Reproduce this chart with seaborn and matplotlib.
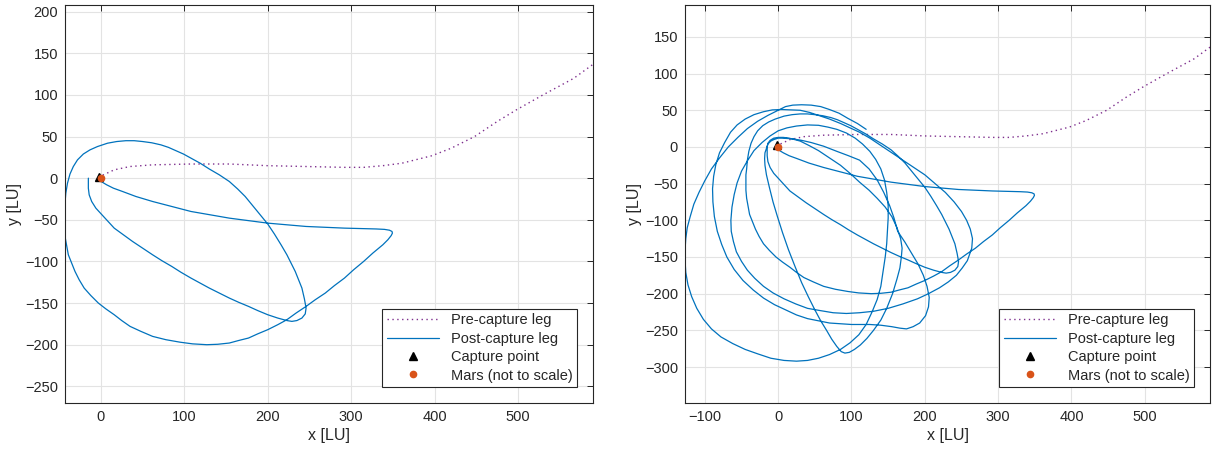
import matplotlib
matplotlib.use("Agg")
import matplotlib.pyplot as plt
import seaborn as sns
import pandas as pd

# pre-capture leg (same in both panels)
pre_x = [589, 567, 530, 498, 475, 448, 420, 397, 361, 338, 315, 292, 246, 200, 154,
         108, 62, 35, 16, 3, -2]
pre_y = [136, 120, 100, 82, 68, 50, 36, 27, 18, 15, 13, 13, 14, 15, 17,
         17, 16, 14, 10, 4, 2]

# post-capture leg, short propagation (left panel)
post_x = [-2, -1, 2, 7, 15, 26, 42, 62, 85, 108, 131, 154, 177, 200, 223, 246, 269, 292, 312,
          330, 340, 346, 349, 349.5, 348, 344, 338,
          326, 315, 303, 292, 280, 269, 257, 246, 234, 223, 212, 200, 188, 177, 165, 154, 140, 127,
          110, 95, 78, 62, 48, 35, 25, 16, 6, -3, -12, -20, -26, -31, -35, -39, -41, -43, -44, -44,
          -44, -43, -42, -40, -37, -33, -28, -21, -13, -4, 8, 19, 30, 40, 50, 61, 72, 81, 90, 99,
          108, 119, 130, 142, 154, 164, 173, 182, 191, 200, 208, 216, 223, 228, 233, 237, 241,
          244, 246, 245, 241, 235, 229, 223, 212, 200, 188, 177, 165, 154, 142, 130, 119, 108,
          96, 85, 73, 62, 50, 38, 27, 16, 5, -6, -11, -14, -15, -15, -15]
post_y = [2, -2, -5, -8, -12, -16, -22, -28, -34, -40, -44, -48, -51, -54, -56, -58, -59, -60, -60.5,
          -61, -61.5, -62.5, -64, -66, -69, -74, -80,
          -90, -100, -110, -120, -129, -138, -146, -154, -162, -170, -176, -182, -187, -192, -195, -198, -199.5, -200,
          -199, -197, -194, -190, -184, -178, -171, -164, -157, -150, -141, -132, -122, -112, -102, -92, -81, -70, -59, -48,
          -38, -30, -18, -6, 5, 14, 22, 29, 34, 38, 42, 44, 45, 45, 44, 42.5, 40, 37, 33, 29,
          24, 18, 11, 4, -4, -13, -22, -33, -44, -55, -67, -80, -92, -102, -112, -122, -132,
          -145, -156, -163, -168, -171, -172, -171, -168, -164, -159, -154, -149, -144, -138, -132, -126, -120,
          -113, -106, -99, -92, -84, -76, -68, -60, -48, -36, -28, -20, -12, -5, 0]

# later revolutions (right panel only), read as (x, y) points
rev_b = [(-14, 5), (-11, 9), (-6, 12), (0, 13), (7, 13), (15, 12), (30, 8), (42, 2), (55, -5),
         (70, -15), (85, -25), (98, -36), (111, -48), (124, -59), (135, -70), (146, -82),
         (155, -95), (162, -110), (167, -125), (169, -138), (168, -150), (166, -165), (162, -180),
         (156, -200), (148, -220), (140, -236), (130, -250), (121, -261), (112, -270), (104, -276),
         (97, -280), (91, -281), (86, -279), (80, -272), (73, -262), (66, -250), (58, -237),
         (50, -222), (41, -204), (32, -185), (23, -163), (14, -140), (6, -117), (-1, -95),
         (-7, -75), (-12, -55), (-16, -38), (-18, -25), (-18.5, -16), (-18, -8), (-14, 4),
         (-10, 8), (-6, 10), (0, 12), (5, 12)]
rev_c = [(20, 11), (32, 9), (45, 6), (62, 1), (80, -6), (96, -12), (111, -18), (124, -30),
         (135, -45), (144, -62), (152, -80), (158, -97), (163, -115), (173, -130), (182, -145),
         (191, -160), (198, -175), (203, -190), (206, -205), (205, -218), (201, -230), (193, -240),
         (184, -245), (175, -248), (166, -247), (155, -245), (140, -243), (125, -242), (112, -242),
         (100, -242), (85, -241), (70, -240), (55, -237), (40, -234), (25, -229), (10, -222),
         (-5, -215), (-20, -206), (-34, -195), (-48, -182), (-60, -167), (-70, -150), (-77, -133),
         (-83, -115), (-87, -95), (-89, -75), (-89.5, -57), (-88, -40), (-85, -24), (-80, -8),
         (-73, 6), (-65, 20), (-56, 30), (-45, 38), (-33, 44), (-20, 48), (-8, 50.5), (5, 51),
         (18, 50.5), (30, 50), (43, 47), (55, 43), (70, 38), (85, 32), (98, 26), (111, 20)]
rev_d = [(125, 12), (140, 2), (155, -8), (170, -18), (185, -28), (200, -38), (214, -50),
         (228, -62), (240, -75), (250, -88), (257, -100), (262, -112), (265, -125), (264, -138),
         (258, -155), (251, -165), (243, -175), (232, -184), (220, -192), (205, -200), (190, -207),
         (170, -214), (150, -220), (130, -224), (111, -226), (93, -227), (75, -226), (57, -223),
         (40, -220), (24, -214), (8, -207), (-7, -199), (-20, -190), (-32, -179), (-42, -168),
         (-50, -156), (-57, -143), (-61, -129), (-64, -115), (-64.5, -100), (-63, -82), (-60, -65),
         (-56, -49), (-50, -33), (-42, -19), (-33, -5), (-22, 6), (-11, 15), (0, 22), (12, 26),
         (25, 28.5), (40, 30), (55, 29.5), (68, 27), (80, 24)]
rev_e = [(93, 19), (105, 12), (115, 4), (125, -6), (133, -17), (140, -30), (145, -45), (148, -62),
         (150, -80), (150, -97), (149, -115), (148, -132), (146, -150), (143, -170), (140, -190),
         (135, -208), (128, -225), (120, -242), (110, -256), (98, -267), (85, -276), (70, -283),
         (55, -288), (40, -291), (25, -292), (8, -291), (-10, -288), (-28, -282), (-45, -276),
         (-62, -268), (-78, -259), (-91, -248), (-102, -235), (-111, -220), (-118, -204),
         (-123, -188), (-126, -171), (-127, -155), (-127, -140), (-126, -125), (-124, -110),
         (-120, -95), (-115, -78), (-108, -62), (-100, -46), (-91, -30), (-80, -15), (-68, 0),
         (-55, 13), (-42, 25), (-28, 35), (-14, 43), (0, 50), (10, 55), (20, 57), (32, 57.5),
         (45, 57), (58, 55), (70, 51), (83, 46), (95, 39), (108, 32), (120, 24)]

capture = (-2, 2)
mars = (0, 0)

more = rev_b + rev_c + rev_d + rev_e
more_x = [pt[0] for pt in more]
more_y = [pt[1] for pt in more]

panels = [
    dict(xs=post_x, ys=post_y, xlim=(-43, 590), ylim=(-270, 208),
         xt=range(0, 501, 100), yt=range(-250, 201, 50),
         pos=[0.0534, 0.1182, 0.4339, 0.8709]),
    dict(xs=post_x + more_x, ys=post_y + more_y, xlim=(-127, 589), ylim=(-349, 193.5),
         xt=range(-100, 501, 100), yt=range(-300, 151, 50),
         pos=[0.5629, 0.1182, 0.4314, 0.8709]),
]

sns.set_theme(style="whitegrid")
plt.rcParams["font.family"] = ["Liberation Sans", "DejaVu Sans"]

BLUE = "#0072BD"
PURPLE = "#7E2F8E"
ORANGE = "#D95319"

fig = plt.figure(figsize=(12.17, 4.57), dpi=100)
for p in panels:
    ax = fig.add_axes(p["pos"])
    pre = pd.DataFrame({"x": pre_x, "y": pre_y})
    post = pd.DataFrame({"x": p["xs"], "y": p["ys"]})
    sns.lineplot(data=pre, x="x", y="y", sort=False, estimator=None, ax=ax,
                 color=PURPLE, linewidth=1.0, linestyle=(0, (1, 2.5)), label="Pre-capture leg")
    sns.lineplot(data=post, x="x", y="y", sort=False, estimator=None, ax=ax,
                 color=BLUE, linewidth=0.9, label="Post-capture leg")
    ax.plot([capture[0]], [capture[1]], marker="^", color="black", markersize=6,
            linestyle="none", label="Capture point")
    ax.plot([mars[0]], [mars[1]], marker="o", color=ORANGE, markersize=4.5,
            linestyle="none", label="Mars (not to scale)")

    ax.set_xlim(*p["xlim"])
    ax.set_ylim(*p["ylim"])
    ax.set_xticks(list(p["xt"]))
    ax.set_yticks(list(p["yt"]))
    ax.set_facecolor("white")
    ax.grid(True, color="#e3e3e3", linewidth=0.8)
    for s in ax.spines.values():
        s.set_color("#262626")
        s.set_linewidth(0.8)
    ax.tick_params(direction="in", length=4, width=0.7, color="#262626",
                   top=True, right=True, labelsize=10.5, labelcolor="#262626", pad=5)
    ax.set_xlabel("x [LU]", fontsize=11.5, color="#262626", labelpad=3)
    ax.set_ylabel("y [LU]", fontsize=11.5, color="#262626", labelpad=2)
    leg = ax.legend(loc="lower right", fontsize=10.5, frameon=True, fancybox=False,
                    framealpha=1, edgecolor="#262626", handlelength=3.6,
                    borderaxespad=1.1, labelspacing=0.3, borderpad=0.3)
    leg.get_frame().set_linewidth(0.8)

fig.savefig("out.png", dpi=100)
